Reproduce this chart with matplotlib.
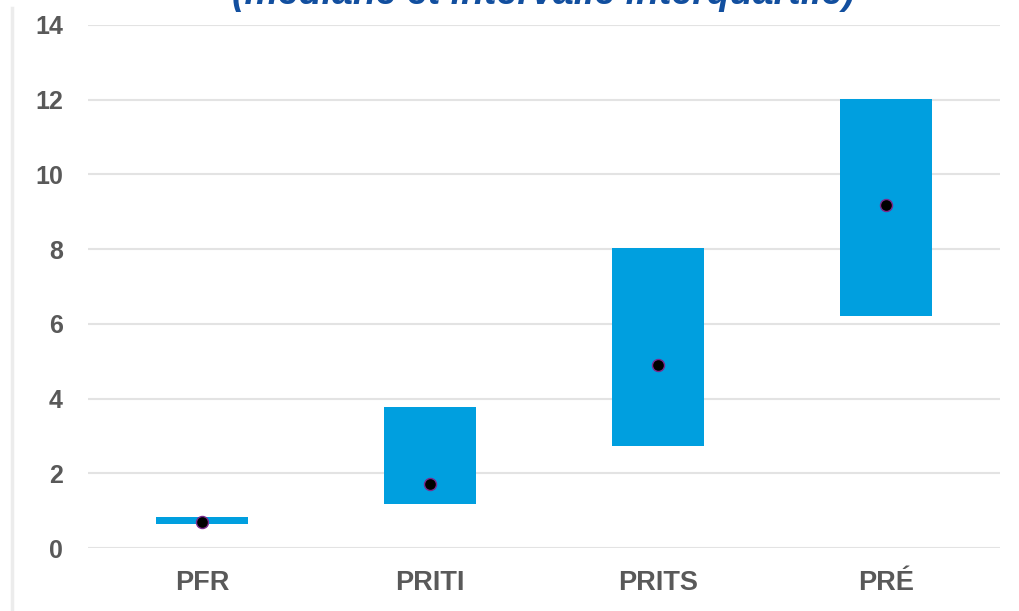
import matplotlib.pyplot as plt
from matplotlib.lines import Line2D

categories = ['PFR', 'PRITI', 'PRITS', 'PRÉ']
q1 = [0.65, 1.18, 2.73, 6.21]
q3 = [0.83, 3.77, 8.04, 12.02]
medians = [0.70, 1.71, 4.90, 9.17]
yticks = [0, 2, 4, 6, 8, 10, 12, 14]

plt.rcParams['font.family'] = ['Liberation Sans', 'DejaVu Sans']

fig = plt.figure(figsize=(10.2, 6.11), dpi=100)
ax = fig.add_axes([88 / 1020, 1 - 548 / 611, 912 / 1020, 523 / 611])

x = list(range(len(categories)))
heights = [b - a for a, b in zip(q1, q3)]
ax.bar(x, heights, bottom=q1, width=0.40, color='#009fdf', zorder=2)
ax.scatter(x, medians, s=75, color='black', edgecolors='#7b2a8c', linewidths=1.0, zorder=3)

ax.set_xlim(-0.5, 3.5)
ax.set_ylim(0, 14)
ax.set_yticks(yticks)
ax.set_xticks(x)
ax.set_xticklabels(categories)
ax.grid(axis='y', color='#e3e3e3', linewidth=1.5, zorder=0)
ax.set_axisbelow(True)
for s in ax.spines.values():
    s.set_visible(False)
ax.tick_params(axis='both', length=0, labelcolor='#595959')
ax.tick_params(axis='y', pad=18, labelsize=18)
ax.tick_params(axis='x', pad=16, labelsize=19.5)
for lab in ax.get_xticklabels() + ax.get_yticklabels():
    lab.set_fontweight('bold')

# cut-off title at the top
fig.text(0.533, 1 - 3.5 / 611, '(médiane et intervalle interquartile)', ha='center', va='baseline',
         fontsize=27, fontweight='bold', fontstyle='italic', color='#124f9f')

# light border on the left
fig.add_artist(Line2D([12 / 1020, 12 / 1020], [0, 1 - 8 / 611], transform=fig.transFigure,
                      color='#ececec', linewidth=2.5))

fig.savefig('out.png', dpi=100)
